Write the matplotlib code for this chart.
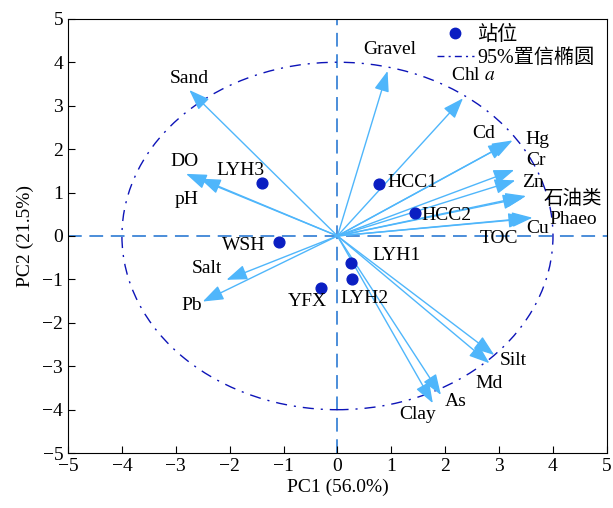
import numpy as np
import matplotlib
matplotlib.use('Agg')
import matplotlib.pyplot as plt
from matplotlib.patches import Ellipse
from matplotlib.lines import Line2D

plt.rcParams['font.family'] = ['Liberation Serif', 'Noto Sans CJK SC']
plt.rcParams['mathtext.fontset'] = 'stix'
plt.rcParams['axes.unicode_minus'] = True

# 环境因子载荷 (PC1, PC2)
var_names = ['Gravel', 'Chl $a$', 'Cd', 'Hg', 'Cr', 'Zn', '石油类', 'Phaeo', 'Cu', 'TOC',
             'Silt', 'Md', 'As', 'Clay', 'Sand', 'DO', 'pH', 'Salt', 'Pb']
var_pc1 = [0.93, 2.33, 3.18, 3.25, 3.28, 3.30, 3.50, 3.45, 3.62, 3.55,
           2.91, 2.82, 1.92, 1.77, -2.75, -2.81, -2.55, -2.06, -2.50]
var_pc2 = [3.80, 3.17, 2.15, 2.20, 1.52, 1.28, 0.92, 0.88, 0.42, 0.40,
           -2.74, -2.93, -3.66, -3.85, 3.36, 1.43, 1.32, -1.01, -1.51]
# 标签位置
var_lab_x = [0.97, 2.52, 2.71, 3.71, 3.69, 3.62, 4.36, 4.38, 3.71, 3.00,
             3.27, 2.82, 2.19, 1.48, -2.75, -2.84, -2.80, -2.43, -2.71]
var_lab_y = [4.29, 3.69, 2.35, 2.21, 1.73, 1.24, 0.85, 0.37, 0.18, -0.05,
             -2.86, -3.39, -3.80, -4.10, 3.62, 1.71, 0.85, -0.76, -1.61]

# 站位得分
site_names = ['LYH3', 'WSH', 'YFX', 'LYH1', 'LYH2', 'HCC1', 'HCC2']
site_pc1 = [-1.40, -1.09, -0.30, 0.25, 0.27, 0.77, 1.43]
site_pc2 = [1.23, -0.13, -1.19, -0.63, -1.00, 1.19, 0.54]
site_lab_x = [-1.80, -1.74, -0.56, 1.09, 0.50, 1.39, 2.02]
site_lab_y = [1.50, -0.23, -1.52, -0.44, -1.45, 1.22, 0.46]

ell_w, ell_h = 8.0, 8.0

arrow_c = '#4fb6fb'
site_c = '#0a1ec2'
ell_c = '#0d14b8'
axis_c = '#1a6fd0'
fs = 14

fig = plt.figure(figsize=(6.13, 5.08), dpi=100)
ax = fig.add_axes([0.111, 0.108, 0.879, 0.855])

ax.axhline(0, color=axis_c, ls=(0, (9, 5)), lw=1.1, zorder=1)
ax.axvline(0, color=axis_c, ls=(0, (9, 5)), lw=1.1, zorder=1)

ax.add_patch(Ellipse((0, 0), ell_w, ell_h, fill=False, ec=ell_c,
                     ls=(0, (8, 5, 1.5, 5)), lw=1.0, zorder=2))

for i in range(len(var_names)):
    ax.annotate('', xy=(var_pc1[i], var_pc2[i]), xytext=(0, 0),
                arrowprops=dict(arrowstyle='-|>,head_length=0.55,head_width=0.2',
                                color=arrow_c, lw=1.0, mutation_scale=23,
                                shrinkA=0, shrinkB=0), zorder=3)
    ax.text(var_lab_x[i], var_lab_y[i], var_names[i], fontsize=fs,
            ha='center', va='center', zorder=5)

ax.scatter(site_pc1, site_pc2, s=60, color=site_c, zorder=4)
for i in range(len(site_names)):
    ax.text(site_lab_x[i], site_lab_y[i], site_names[i], fontsize=fs,
            ha='center', va='center', zorder=5)

ax.set_xlim(-5, 5)
ax.set_ylim(-5, 5)
ax.set_xticks(np.arange(-5, 6, 1))
ax.set_yticks(np.arange(-5, 6, 1))
ax.tick_params(direction='in', length=5, labelsize=fs)
ax.set_xlabel('PC1 (56.0%)', fontsize=fs, labelpad=3)
ax.set_ylabel('PC2 (21.5%)', fontsize=fs, labelpad=6)

handles = [Line2D([], [], ls='none', marker='o', ms=7.5, color=site_c),
           Line2D([], [], ls=(0, (5, 3, 1.5, 3)), lw=1.0, color=ell_c)]
ax.legend(handles, ['站位', '95%置信椭圆'], loc='upper right',
          bbox_to_anchor=(1.0, 1.012), frameon=False, fontsize=14.5,
          handlelength=1.8, handletextpad=0.2, labelspacing=0.2,
          borderaxespad=0.2)

fig.savefig('out.png', dpi=100)
